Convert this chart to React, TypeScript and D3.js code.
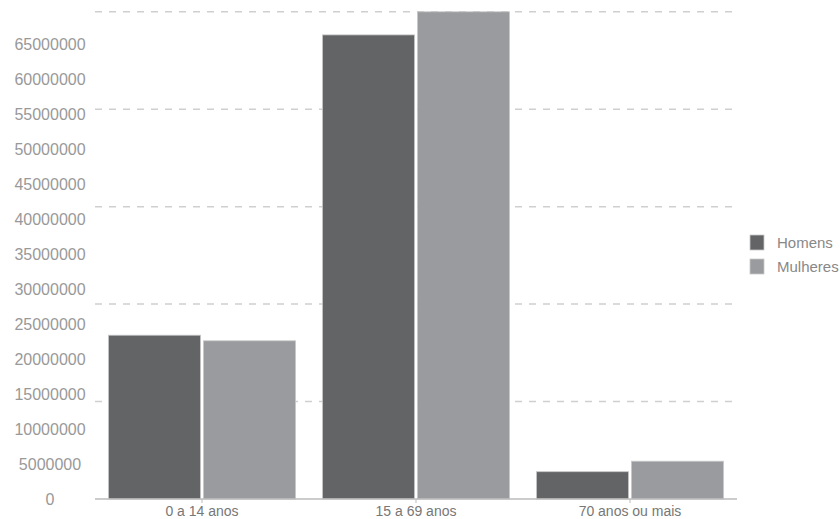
import React from "react";
import * as d3 from "d3";

const categories = ["0 a 14 anos", "15 a 69 anos", "70 anos ou mais"];
const seriesNames = ["Homens", "Mulheres"];
const homens = [23400000, 66300000, 3900000];
const mulheres = [22600000, 69600000, 5400000];
const yTicks = [0, 5000000, 10000000, 15000000, 20000000, 25000000, 30000000, 35000000, 40000000, 45000000, 50000000, 55000000, 60000000, 65000000];
const colors = ["#636466", "#999b9e"];

const W = 840, H = 519;
const left = 95, right = 737, base = 499;

export default function App() {
  const y = d3.scaleLinear().domain([0, 65000000]).range([base, 44]);
  const x0 = d3.scaleBand<string>().domain(categories).range([left, right]).paddingInner(0.126).paddingOuter(0.063);
  const x1 = d3.scaleBand<string>().domain(seriesNames).range([0, x0.bandwidth()]).paddingInner(0.03);
  const maxVal = d3.max([...homens, ...mulheres]) as number;
  const grid = d3.range(1, 6).map(i => (i * maxVal) / 5);
  const series = [homens, mulheres];
  const font = "'Liberation Sans', Arial, sans-serif";
  return (
    <div style={{ position: "absolute", left: 0, top: 0 }}>
      <svg width={W} height={H} style={{ display: "block", background: "#fff" }} fontFamily={font}>
        {grid.map((g, i) => (
          <line key={i} x1={left} x2={right} y1={y(g)} y2={y(g)} stroke="#cfcfcf" strokeWidth={1.5} strokeDasharray="7,7" />
        ))}
        {yTicks.map((t) => (
          <text key={t} x={50} y={y(t)} dy="0.35em" textAnchor="middle" fontSize={16} fill="#999">{t}</text>
        ))}
        {categories.map((c, ci) => (
          <g key={c} transform={`translate(${x0(c)},0)`}>
            {series.map((s, si) => (
              <rect key={si} x={x1(seriesNames[si])} y={y(s[ci])} width={x1.bandwidth()} height={base - y(s[ci])}
                fill={colors[si]} stroke="#c8c8c8" strokeWidth={0.8} />
            ))}
          </g>
        ))}
        <line x1={left} x2={right} y1={base} y2={base} stroke="#bbb" strokeWidth={1.5} />
        {categories.map((c) => {
          const cx = (x0(c) as number) + x0.bandwidth() / 2;
          return (
            <g key={c}>
              <line x1={cx} x2={cx} y1={base} y2={base + 4} stroke="#bbb" strokeWidth={1} />
              <text x={cx} y={base + 12} dy="0.35em" textAnchor="middle" fontSize={14} fill="#777">{c}</text>
            </g>
          );
        })}
        {seriesNames.map((n, i) => (
          <g key={n} transform={`translate(750,${235 + i * 24})`}>
            <rect x={0} y={0} width={14} height={15} fill={colors[i]} stroke="#c8c8c8" strokeWidth={0.8} />
            <text x={27} y={8} dy="0.35em" fontSize={15} fill="#888">{n}</text>
          </g>
        ))}
      </svg>
    </div>
  );
}
